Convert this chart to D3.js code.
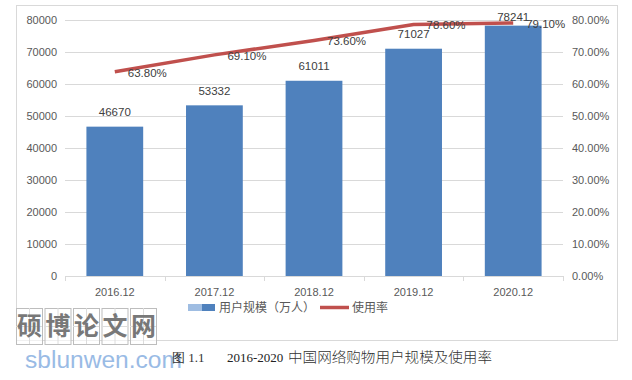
<!DOCTYPE html>
<html><head><meta charset="utf-8">
<script src="https://cdn.jsdelivr.net/npm/d3@7"></script>
<style>body{margin:0;background:#fff}svg{display:block}</style>
</head><body>
<svg id="c" width="632" height="380"></svg>
<script>
const categories = ["2016.12","2017.12","2018.12","2019.12","2020.12"];
const users = [46670, 53332, 61011, 71027, 78241];
const rates = [0.638, 0.691, 0.736, 0.786, 0.791];
const leftTicks = [0,10000,20000,30000,40000,50000,60000,70000,80000];
const rightTicks = [0,0.1,0.2,0.3,0.4,0.5,0.6,0.7,0.8];
const legendLabels = ["用户规模（万人）","使用率"];
const caption = ["图 1.1","2016-2020","中国网络购物用户规模及使用率"];
const watermark = ["硕","博","论","文","网"];

const svg = d3.select("#c");
const L = 65, R = 563, T = 20, B = 276;
const font = "'Liberation Sans', Arial, sans-serif";
const cjk = "'Noto Sans CJK SC', sans-serif";

// frame
svg.append("rect").attr("x",16.5).attr("y",5.5).attr("width",601).attr("height",335)
  .attr("fill","#fff").attr("stroke","#d9d9d9");

const x = d3.scaleBand().domain(categories).range([L,R]).paddingInner(0.43).paddingOuter(0.215);
const xc = d3.scalePoint().domain(categories).range([L,R]).padding(0.5);
const yL = d3.scaleLinear().domain([0,80000]).range([B,T]);
const yR = d3.scaleLinear().domain([0,0.8]).range([B,T]);

// gridlines
svg.append("g").selectAll("line").data(leftTicks.slice(1)).join("line")
  .attr("x1",L).attr("x2",R).attr("y1",d=>Math.round(yL(d))+0.5).attr("y2",d=>Math.round(yL(d))+0.5)
  .attr("stroke","#d9d9d9").attr("stroke-width",1);

// left axis
const gl = svg.append("g").attr("transform",`translate(${L},0)`)
  .call(d3.axisLeft(yL).tickValues(leftTicks).tickSize(0).tickPadding(8).tickFormat(d3.format("d")));
gl.select(".domain").remove();
gl.selectAll("text").attr("font-family",font).attr("font-size",11).attr("fill","#595959");

// right axis
const gr = svg.append("g").attr("transform",`translate(${R},0)`)
  .call(d3.axisRight(yR).tickValues(rightTicks).tickSize(0).tickPadding(9).tickFormat(d3.format(".2%")));
gr.select(".domain").remove();
gr.selectAll("text").attr("font-family",font).attr("font-size",11).attr("fill","#595959");

// bars
svg.append("g").selectAll("rect").data(users).join("rect")
  .attr("x",(d,i)=>x(categories[i])).attr("width",x.bandwidth())
  .attr("y",d=>yL(d)).attr("height",d=>B-yL(d)).attr("fill","#4F81BD");

// x axis
const gx = svg.append("g").attr("transform",`translate(0,${B})`)
  .call(d3.axisBottom(x).tickSize(0).tickPadding(12));
gx.select(".domain").attr("stroke","#d9d9d9").attr("d",`M${L},0.5H${R}`);
gx.selectAll("text").attr("font-family",font).attr("font-size",11).attr("fill","#595959");
const bounds = [L].concat(categories.map((c,i)=>L+(R-L)/categories.length*(i+1)));
svg.append("g").selectAll("line").data(bounds).join("line")
  .attr("x1",d=>Math.round(d)+0.5).attr("x2",d=>Math.round(d)+0.5).attr("y1",B).attr("y2",B+5)
  .attr("stroke","#d9d9d9");

// bar labels
svg.append("g").selectAll("text").data(users).join("text")
  .attr("x",(d,i)=>xc(categories[i])).attr("y",d=>Math.max(yL(d)-10.5,21))
  .attr("text-anchor","middle").attr("font-family",font).attr("font-size",11.5).attr("fill","#404040")
  .text(d=>d);

// line
const line = d3.line().x((d,i)=>xc(categories[i])).y(d=>yR(d));
svg.append("path").datum(rates).attr("d",line).attr("fill","none")
  .attr("stroke","#C0504D").attr("stroke-width",3.5).attr("stroke-linejoin","round");

svg.append("g").selectAll("text").data(rates).join("text")
  .attr("x",(d,i)=>xc(categories[i])+13).attr("y",d=>yR(d)+5)
  .attr("font-family",font).attr("font-size",11.5).attr("fill","#404040")
  .text(d=>d3.format(".2%")(d));

// legend
const grad = svg.append("defs").append("linearGradient").attr("id","lg");
grad.append("stop").attr("offset","0").attr("stop-color","#9fbde2");
grad.append("stop").attr("offset","0.5").attr("stop-color","#9fbde2");
grad.append("stop").attr("offset","0.5").attr("stop-color","#4F81BD");
grad.append("stop").attr("offset","1").attr("stop-color","#4F81BD");
svg.append("rect").attr("x",188).attr("y",304).attr("width",27).attr("height",7).attr("fill","url(#lg)");
svg.append("text").attr("x",219).attr("y",312).attr("font-family",cjk).attr("font-size",12)
  .attr("fill","#595959").text(legendLabels[0]);
svg.append("line").attr("x1",320).attr("x2",349).attr("y1",307.5).attr("y2",307.5)
  .attr("stroke","#C0504D").attr("stroke-width",3.5);
svg.append("text").attr("x",352).attr("y",312).attr("font-family",cjk).attr("font-size",12)
  .attr("fill","#595959").text(legendLabels[1]);

// watermark
const wm = svg.append("g");
watermark.forEach((ch,i)=>{
  const bx = 16 + i*28.5, by = 308, bw = 26, bh = 36;
  wm.append("rect").attr("x",bx+0.5).attr("y",by+0.5).attr("width",bw).attr("height",bh)
    .attr("fill","rgba(255,255,255,0.6)").attr("stroke","#bdbdbd");
  wm.append("line").attr("x1",bx+bw/2+0.5).attr("x2",bx+bw/2+0.5).attr("y1",by).attr("y2",by+bh).attr("stroke","#dcdcdc");
  wm.append("line").attr("x1",bx).attr("x2",bx+bw).attr("y1",by+bh/2+0.5).attr("y2",by+bh/2+0.5).attr("stroke","#dcdcdc");
  wm.append("text").attr("x",bx+bw/2+0.5).attr("y",by+bh/2+9).attr("text-anchor","middle")
    .attr("font-family",cjk).attr("font-weight","bold").attr("font-size",25).attr("fill","#787878").text(ch);
});
wm.append("text").attr("x",25).attr("y",368).attr("font-family",font).attr("font-size",23)
  .attr("textLength",157).attr("lengthAdjust","spacingAndGlyphs")
  .attr("fill","#8fb4e3").attr("opacity",0.9).text("sblunwen.com");

// caption
svg.append("text").attr("x",172).attr("y",362).attr("font-family","'Liberation Serif', serif")
  .attr("font-size",13).attr("fill","#333").text(caption[0]);
svg.append("text").attr("x",227).attr("y",362).attr("font-family","'Liberation Serif', serif")
  .attr("font-size",13).attr("fill","#222").text(caption[1]);
svg.append("text").attr("x",288).attr("y",362).attr("font-family",cjk).attr("font-weight",300)
  .attr("font-size",14).attr("fill","#333").attr("textLength",204).attr("lengthAdjust","spacingAndGlyphs").text(caption[2]);
</script>
</body></html>
